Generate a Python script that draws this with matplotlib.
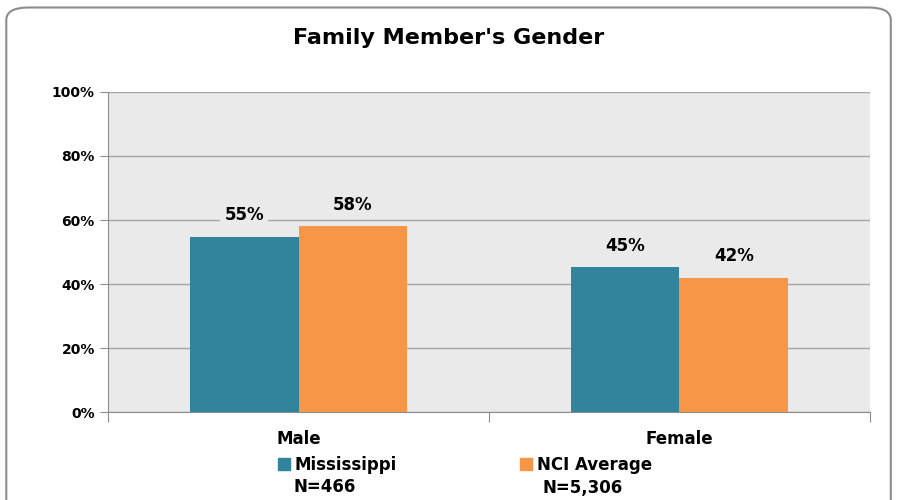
import matplotlib.pyplot as plt
import numpy as np
from matplotlib.patches import FancyBboxPatch, Patch

categories = ["Male", "Female"]
mississippi = [54.7, 45.3]
nci_average = [58.1, 41.9]
series_names = ["Mississippi", "NCI Average"]
n_labels = ["N=466", "N=5,306"]
colors = ["#31849B", "#F79646"]

plt.rcParams["font.family"] = ["Liberation Sans Narrow", "DejaVu Sans"]
plt.rcParams["font.weight"] = "bold"

fig = plt.figure(figsize=(8.98, 5.0), dpi=100)
ax = fig.add_axes([0.1203, 0.176, 0.8485, 0.64])

# rounded frame round the chart
frame = FancyBboxPatch((0.007, -0.05), 0.985, 1.035, transform=fig.transFigure,
                       boxstyle="round,pad=0,rounding_size=0.025",
                       fc="none", ec="#8c8c8c", lw=1.5, zorder=0)
fig.patches.append(frame)

x = np.arange(len(categories))
w = 0.285
ax.set_facecolor("#EAEAEA")
b1 = ax.bar(x - w / 2, mississippi, w, color=colors[0], zorder=3)
b2 = ax.bar(x + w / 2, nci_average, w, color=colors[1], zorder=3)

for bars, vals in [(b1, mississippi), (b2, nci_average)]:
    for b, v in zip(bars, vals):
        ax.annotate(f"{v:.0f}%", (b.get_x() + b.get_width() / 2, v),
                    xytext=(0, 9), textcoords="offset points",
                    ha="center", va="bottom", fontsize=12, fontweight="bold",
                    bbox=dict(fc="#EAEAEA", ec="none", pad=3), zorder=4)

ax.set_xlim(-0.5, 1.5)
ax.set_ylim(0, 100)
ax.set_yticks(range(0, 101, 20))
ax.set_yticklabels([f"{t}%" for t in range(0, 101, 20)], fontsize=10, fontweight="bold")
ax.yaxis.grid(True, color="#a6a6a6", lw=1, zorder=0)
ax.set_axisbelow(True)

# category labels between boundary tick marks
ax.set_xticks([-0.5, 0.5, 1.5])
ax.set_xticklabels([])
ax.set_xticks(x, minor=True)
ax.set_xticklabels(categories, minor=True, fontsize=12, fontweight="bold")
ax.tick_params(axis="x", which="minor", length=0, pad=13)
ax.tick_params(axis="x", which="major", length=7, color="#8c8c8c")
ax.tick_params(axis="y", length=6, color="#8c8c8c")
for s in ["top", "right"]:
    ax.spines[s].set_visible(False)
ax.spines["left"].set_color("#8c8c8c")
ax.spines["bottom"].set_color("#8c8c8c")

fig.text(0.5, 0.925, "Family Member's Gender", ha="center", va="center",
         fontsize=16, fontweight="bold")

handles = [Patch(color=c) for c in colors]
fig.legend(handles, series_names, loc="center", bbox_to_anchor=(0.518, 0.07),
           ncol=2, frameon=False, handlelength=0.7, handleheight=0.7,
           handletextpad=0.3, columnspacing=7.4, prop={"weight": "bold", "size": 12})
fig.text(0.362, 0.025, n_labels[0], ha="center", va="center", fontsize=12, fontweight="bold")
fig.text(0.649, 0.025, n_labels[1], ha="center", va="center", fontsize=12, fontweight="bold")

fig.savefig("out.png", dpi=100)
